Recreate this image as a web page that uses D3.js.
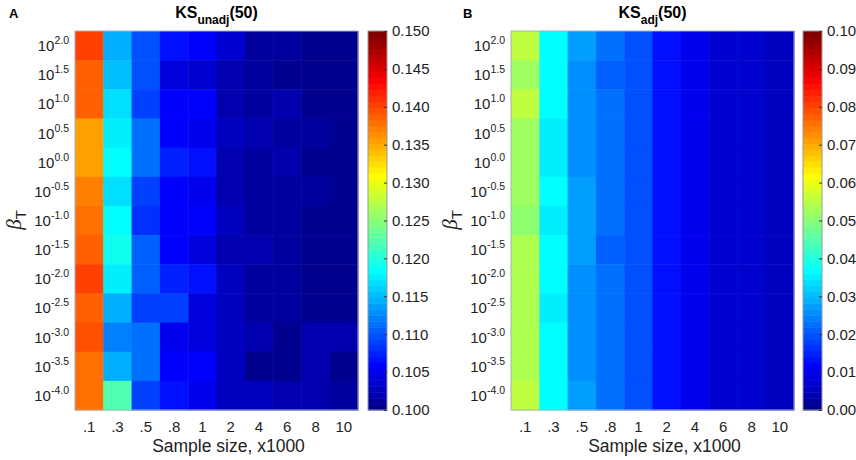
<!DOCTYPE html>
<html>
<head>
<meta charset="utf-8">
<script src="https://cdn.jsdelivr.net/npm/d3@7"></script>
<style>
  body { margin: 0; background: #fff; }
  svg { font-family: "Liberation Sans", Arial, sans-serif; }
</style>
</head>
<body>
<svg id="chart" width="856" height="460"></svg>
<script>
// columns: sample size (x1000), rows: log10 of beta_T
const sampleSizes = ['.1', '.3', '.5', '.8', '1', '2', '4', '6', '8', '10'];
const betaExps = ['2.0', '1.5', '1.0', '0.5', '0.0', '-0.5', '-1.0', '-1.5', '-2.0', '-2.5', '-3.0', '-3.5', '-4.0'];

// KS_unadj(50), one row per beta_T
const ksUnadj = [
  [0.1406, 0.1146, 0.1094, 0.1063, 0.1055, 0.1035, 0.1012, 0.1012, 0.1002, 0.1002],
  [0.1390, 0.1150, 0.1100, 0.1040, 0.1035, 0.1020, 0.1015, 0.1002, 0.1005, 0.1002],
  [0.1383, 0.1165, 0.1086, 0.1055, 0.1058, 0.1020, 0.1015, 0.1018, 0.1007, 0.1005],
  [0.1352, 0.1172, 0.1111, 0.1058, 0.1050, 0.1028, 0.1023, 0.1015, 0.1015, 0.1002],
  [0.1355, 0.1185, 0.1111, 0.1078, 0.1063, 0.1023, 0.1015, 0.1018, 0.1007, 0.1002],
  [0.1369, 0.1165, 0.1093, 0.1060, 0.1050, 0.1023, 0.1015, 0.1013, 0.1015, 0.1002],
  [0.1380, 0.1185, 0.1084, 0.1060, 0.1055, 0.1030, 0.1013, 0.1015, 0.1005, 0.1002],
  [0.1387, 0.1195, 0.1106, 0.1060, 0.1045, 0.1023, 0.1020, 0.1015, 0.1005, 0.1002],
  [0.1406, 0.1178, 0.1106, 0.1078, 0.1063, 0.1030, 0.1015, 0.1015, 0.1005, 0.1002],
  [0.1387, 0.1146, 0.1086, 0.1086, 0.1043, 0.1025, 0.1015, 0.1015, 0.1005, 0.1002],
  [0.1398, 0.1121, 0.1110, 0.1048, 0.1045, 0.1025, 0.1018, 0.1005, 0.1020, 0.1020],
  [0.1380, 0.1146, 0.1110, 0.1060, 0.1055, 0.1030, 0.1005, 0.1007, 0.1018, 0.1007],
  [0.1380, 0.1221, 0.1093, 0.1070, 0.1048, 0.1025, 0.1025, 0.1020, 0.1018, 0.1015]
];

// KS_adj(50)
const ksAdj = [
  [0.0550, 0.0360, 0.0267, 0.0223, 0.0190, 0.0140, 0.0095, 0.0078, 0.0075, 0.0052],
  [0.0530, 0.0360, 0.0250, 0.0205, 0.0190, 0.0140, 0.0095, 0.0078, 0.0075, 0.0052],
  [0.0550, 0.0360, 0.0263, 0.0220, 0.0190, 0.0140, 0.0095, 0.0078, 0.0075, 0.0052],
  [0.0530, 0.0345, 0.0263, 0.0220, 0.0190, 0.0140, 0.0095, 0.0078, 0.0075, 0.0052],
  [0.0530, 0.0345, 0.0250, 0.0220, 0.0190, 0.0140, 0.0095, 0.0078, 0.0075, 0.0052],
  [0.0530, 0.0360, 0.0267, 0.0220, 0.0190, 0.0140, 0.0095, 0.0078, 0.0075, 0.0052],
  [0.0510, 0.0345, 0.0267, 0.0233, 0.0190, 0.0140, 0.0095, 0.0078, 0.0075, 0.0052],
  [0.0540, 0.0360, 0.0267, 0.0205, 0.0190, 0.0140, 0.0095, 0.0078, 0.0075, 0.0052],
  [0.0540, 0.0360, 0.0250, 0.0220, 0.0190, 0.0140, 0.0095, 0.0078, 0.0075, 0.0052],
  [0.0540, 0.0345, 0.0263, 0.0220, 0.0190, 0.0140, 0.0095, 0.0078, 0.0075, 0.0052],
  [0.0540, 0.0360, 0.0263, 0.0220, 0.0190, 0.0140, 0.0095, 0.0078, 0.0075, 0.0052],
  [0.0540, 0.0360, 0.0250, 0.0220, 0.0190, 0.0140, 0.0095, 0.0078, 0.0075, 0.0052],
  [0.0560, 0.0360, 0.0267, 0.0220, 0.0190, 0.0140, 0.0095, 0.0078, 0.0075, 0.0052]
];

const unadjRange = [0.100, 0.150];
const unadjTicks = [0.100, 0.105, 0.110, 0.115, 0.120, 0.125, 0.130, 0.135, 0.140, 0.145, 0.150];
const adjRange = [0.00, 0.10];
const adjTicks = [0.00, 0.01, 0.02, 0.03, 0.04, 0.05, 0.06, 0.07, 0.08, 0.09, 0.10];

// matlab jet(m)
function jet(m) {
  const n = Math.ceil(m / 4);
  const u = [];
  for (let i = 1; i <= n; i++) u.push(i / n);
  for (let i = 1; i < n; i++) u.push(1);
  for (let i = n; i >= 1; i--) u.push(i / n);
  const g0 = Math.ceil(n / 2) - (m % 4 === 1 ? 1 : 0);
  const cols = Array.from({ length: m }, () => [0, 0, 0]);
  u.forEach((v, k) => {
    const g = g0 + k + 1;
    const r = g + n, b = g - n;
    if (r >= 1 && r <= m) cols[r - 1][0] = v;
    if (g >= 1 && g <= m) cols[g - 1][1] = v;
    if (b >= 1 && b <= m) cols[b - 1][2] = v;
  });
  return cols.map(c => d3.rgb(c[0] * 255, c[1] * 255, c[2] * 255).formatHex());
}
const jetColors = jet(64);

const svg = d3.select('#chart');
const plotTop = 31, plotBottom = 410;
const textColor = '#222';

function drawPanel(opts) {
  const { x0, x1, cb0, cb1, data, range, ticks, fmt, sub, letter, letterX } = opts;

  const x = d3.scaleBand().domain(sampleSizes).range([x0, x1]);
  const y = d3.scaleBand().domain(betaExps).range([plotTop, plotBottom]);
  const color = d3.scaleQuantize().domain(range).range(jetColors);

  const cells = [];
  data.forEach((row, i) => row.forEach((v, j) => cells.push({ r: betaExps[i], c: sampleSizes[j], v })));

  svg.append('g').selectAll('rect')
    .data(cells)
    .enter()
    .append('rect')
    .attr('x', d => x(d.c))
    .attr('y', d => y(d.r))
    .attr('width', x.bandwidth() + 0.5)
    .attr('height', y.bandwidth() + 0.5)
    .attr('fill', d => color(d.v));

  svg.append('rect')
    .attr('x', x0).attr('y', plotTop)
    .attr('width', x1 - x0).attr('height', plotBottom - plotTop)
    .attr('fill', 'none').attr('stroke', '#a9b0b8').attr('stroke-width', 1);

  // x axis
  const xAxis = svg.append('g')
    .attr('transform', `translate(0,${plotBottom})`)
    .call(d3.axisBottom(x).tickSize(0).tickPadding(11));
  xAxis.select('.domain').remove();
  xAxis.attr('font-size', 15).attr('font-family', null);
  xAxis.selectAll('text').attr('fill', textColor);

  svg.append('text')
    .attr('x', (x0 + x1) / 2 + 12).attr('y', 452)
    .attr('text-anchor', 'middle')
    .attr('font-size', 17.5).attr('fill', textColor)
    .text('Sample size, x1000');

  // y axis, labels as 10^exp
  const yAxis = svg.append('g')
    .attr('transform', `translate(${x0},0)`)
    .call(d3.axisLeft(y).tickSize(0).tickPadding(6));
  yAxis.select('.domain').remove();
  yAxis.attr('font-size', 15).attr('font-family', null);
  yAxis.selectAll('text').each(function (d) {
    const t = d3.select(this).text(null).attr('dy', null).attr('y', 5.5).attr('fill', textColor);
    t.append('tspan').text('10');
    t.append('tspan').attr('font-size', 10.5).attr('dy', -7).text(d);
  });

  const yl = svg.append('text')
    .attr('transform', `translate(${x0 - 54},220) rotate(-90)`)
    .attr('text-anchor', 'middle').attr('fill', textColor);
  yl.append('tspan').attr('font-family', '"Liberation Serif", serif')
    .attr('font-style', 'italic').attr('font-size', 21).text('β');
  yl.append('tspan').attr('font-size', 15).attr('dy', 5).text('T');

  // title
  const title = svg.append('text')
    .attr('x', (x0 + x1) / 2).attr('y', 18)
    .attr('text-anchor', 'middle').attr('font-weight', 'bold')
    .attr('font-size', 16).attr('fill', '#000');
  title.append('tspan').text('KS');
  title.append('tspan').attr('font-size', 12).attr('dy', 6).text(sub);
  title.append('tspan').attr('dy', -6).text('(50)');

  svg.append('text')
    .attr('x', letterX).attr('y', 18)
    .attr('font-weight', 'bold').attr('font-size', 13)
    .text(letter);

  // colorbar
  const cy = d3.scaleLinear().domain(range).range([plotBottom, plotTop]);
  const step = (range[1] - range[0]) / jetColors.length;
  svg.append('g').selectAll('rect')
    .data(jetColors)
    .enter()
    .append('rect')
    .attr('x', cb0)
    .attr('y', (d, i) => cy(range[0] + (i + 1) * step))
    .attr('width', cb1 - cb0)
    .attr('height', (d, i) => cy(range[0] + i * step) - cy(range[0] + (i + 1) * step) + 0.5)
    .attr('fill', d => d);

  svg.append('rect')
    .attr('x', cb0).attr('y', plotTop)
    .attr('width', cb1 - cb0).attr('height', plotBottom - plotTop)
    .attr('fill', 'none').attr('stroke', '#9a9a9a').attr('stroke-width', 1);

  const cAxis = svg.append('g')
    .attr('transform', `translate(${cb1},0)`)
    .call(d3.axisRight(cy).tickValues(ticks).tickFormat(d3.format(fmt))
      .tickSizeInner(-3).tickSizeOuter(0).tickPadding(5));
  cAxis.select('.domain').remove();
  cAxis.attr('font-size', 15).attr('font-family', null);
  cAxis.selectAll('line').attr('stroke', '#333');
  cAxis.selectAll('text').attr('fill', textColor);
}

drawPanel({
  x0: 75, x1: 358, cb0: 368, cb1: 387,
  data: ksUnadj, range: unadjRange, ticks: unadjTicks, fmt: '.3f',
  sub: 'unadj', letter: 'A', letterX: 9
});

drawPanel({
  x0: 511, x1: 794, cb0: 803, cb1: 822,
  data: ksAdj, range: adjRange, ticks: adjTicks, fmt: '.2f',
  sub: 'adj', letter: 'B', letterX: 463
});
</script>
</body>
</html>
